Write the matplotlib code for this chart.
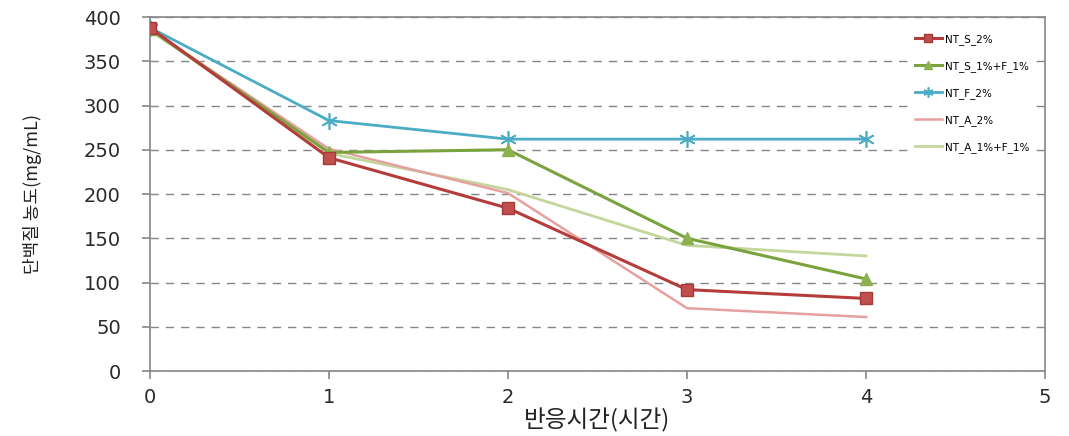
import matplotlib
matplotlib.use("Agg")
import matplotlib.pyplot as plt

hours = [0, 1, 2, 3, 4]
nt_s_2 = [388, 241, 184, 92, 82]
nt_s1_f1 = [386, 247, 250, 150, 104]
nt_f_2 = [388, 283, 262, 262, 262]
nt_a_2 = [386, 251, 201, 71, 61]
nt_a1_f1 = [385, 246, 205, 142, 130]

labels = ["NT_S_2%", "NT_S_1%+F_1%", "NT_F_2%", "NT_A_2%", "NT_A_1%+F_1%"]
xticks = [0, 1, 2, 3, 4, 5]
yticks = list(range(0, 401, 50))

fig = plt.figure(figsize=(10.69, 4.36), dpi=100)
ax = fig.add_axes([0.1403, 0.149, 0.8373, 0.812])

grid_c = "#868686"
ax.plot(hours, nt_a1_f1, color="#c3d69b", lw=2.0, label=labels[4], zorder=3)
ax.plot(hours, nt_a_2, color="#e6a0a0", lw=1.8, label=labels[3], zorder=3)
ax.plot(hours, nt_f_2, color="#4bacc6", lw=2.0, marker=(6, 2, 0), ms=12,
        mew=1.2, label=labels[2], zorder=4)
ax.plot(hours, nt_s1_f1, color="#7aa33e", lw=2.2, marker="^", ms=9,
        mfc="#8db050", mec="#8db050", label=labels[1], zorder=5)
ax.plot(hours, nt_s_2, color="#b43c3a", lw=2.2, marker="s", ms=9,
        mfc="#c0504d", mec="#a33a38", label=labels[0], zorder=6)

ax.set_xlim(0, 5)
ax.set_ylim(0, 400)
ax.set_xticks(xticks)
ax.set_yticks(yticks)
ax.yaxis.grid(True, color=grid_c, linestyle=(0, (6, 5)), lw=1)
ax.set_axisbelow(True)
for s in ax.spines.values():
    s.set_color(grid_c)
    s.set_linewidth(1.2)
ax.tick_params(axis="both", colors=grid_c, length=6, width=1.2,
               direction="out", labelcolor="#2a2a2a", labelsize=14)
ax.tick_params(axis="x", pad=6)
ax.tick_params(axis="y", pad=15)
for t in ax.get_xticklabels() + ax.get_yticklabels():
    t.set_fontweight("medium")

ax.set_xlabel("반응시간(시간)", family=["Noto Sans CJK KR", "DejaVu Sans"],
              fontsize=17, color="#222222", labelpad=1)
ax.set_ylabel("단백질 농도(mg/mL)", family=["Noto Sans CJK KR", "DejaVu Sans"],
              fontsize=13, color="#222222", labelpad=30)

handles, labs = ax.get_legend_handles_labels()
order = [labs.index(l) for l in labels]
leg = ax.legend([handles[i] for i in order], [labs[i] for i in order],
                loc="upper right", bbox_to_anchor=(0.995, 0.985),
                frameon=True, fontsize=7.5, handlelength=2.6,
                labelspacing=1.55, markerscale=0.6, borderpad=0.6,
                handletextpad=0.3)
leg.get_frame().set_edgecolor("none")
leg.get_frame().set_facecolor("white")
leg.get_frame().set_alpha(1)

fig.savefig("out.png", dpi=100)
